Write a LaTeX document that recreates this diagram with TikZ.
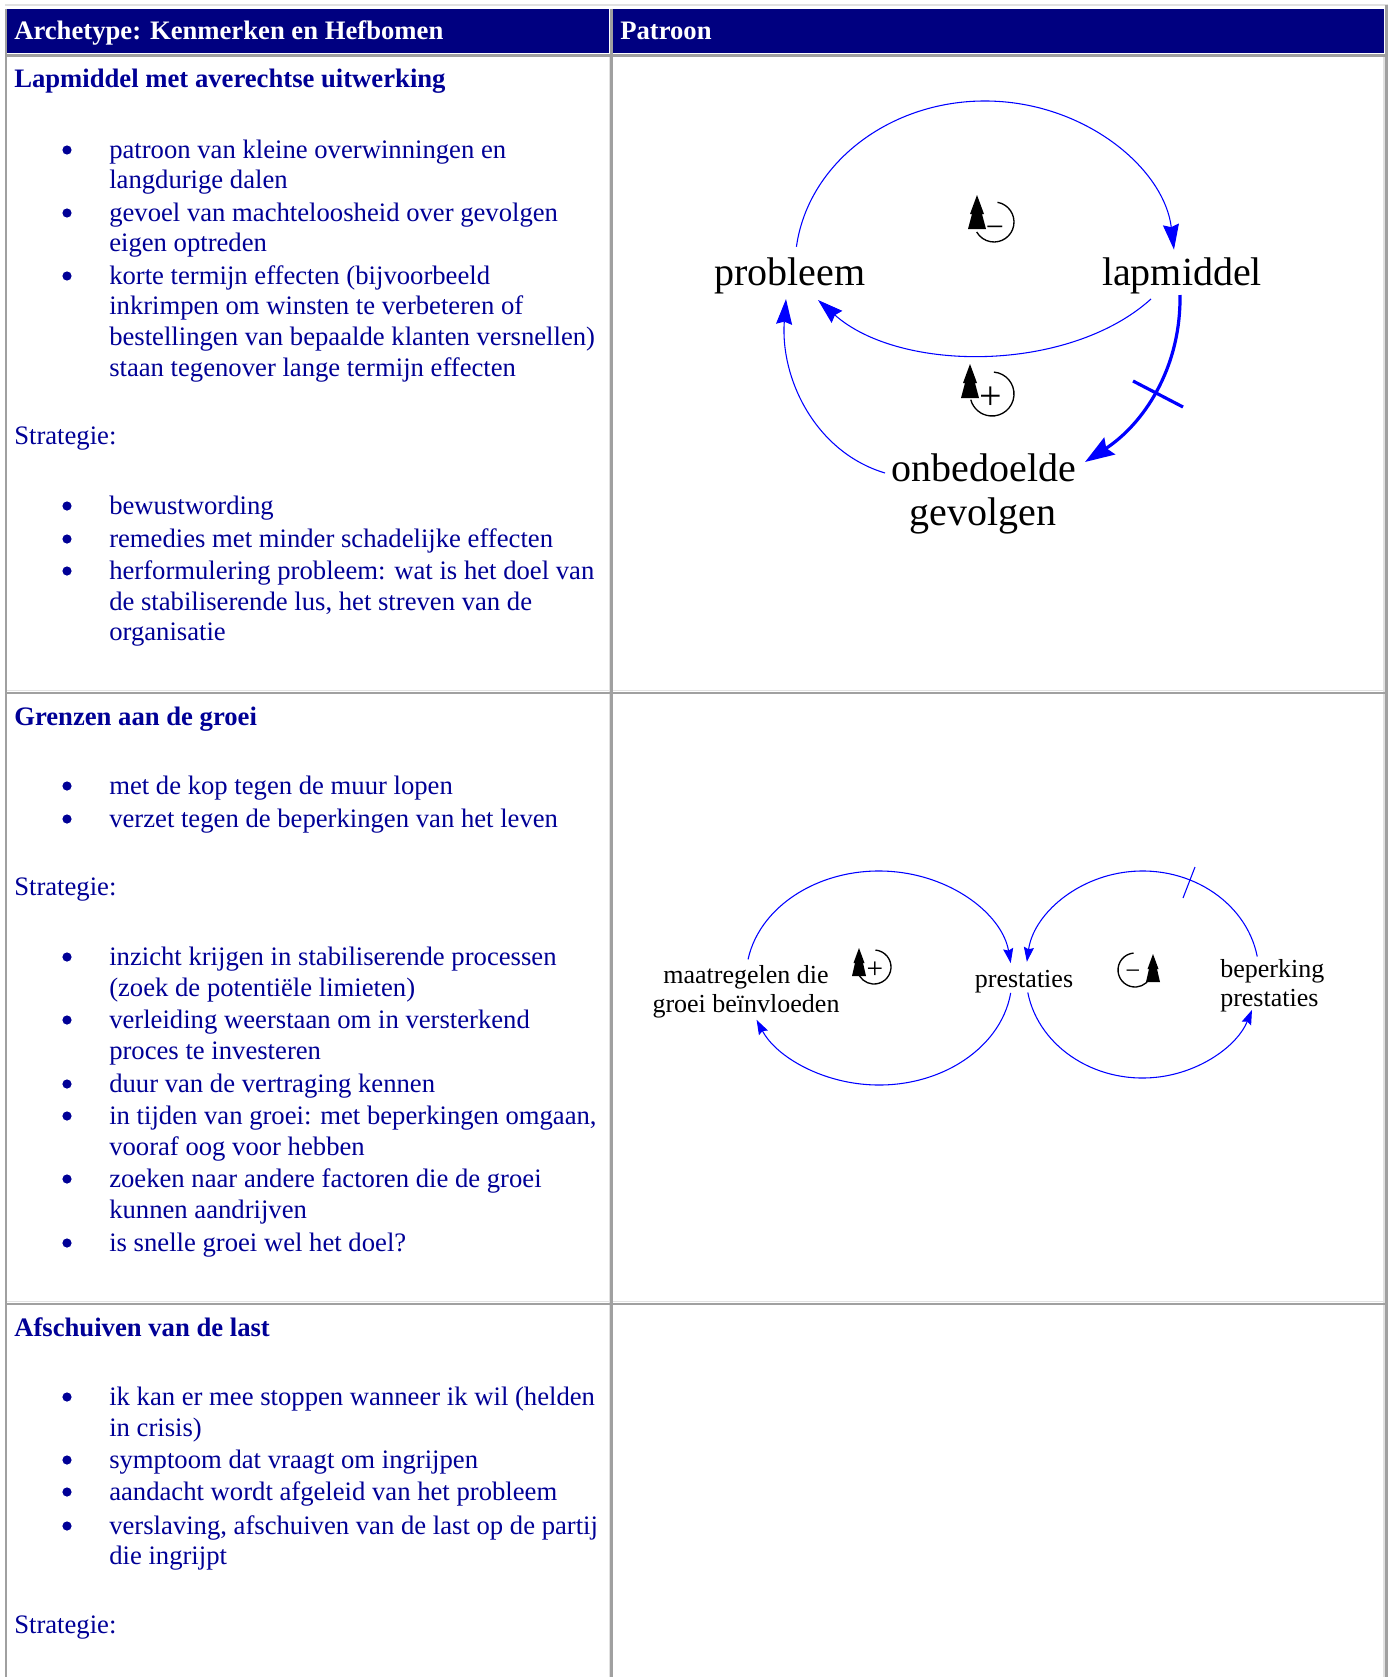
\documentclass[tikz,border=0pt]{standalone}
\usepackage{fontspec}
\setmainfont{Liberation Serif}
\usetikzlibrary{arrows.meta,calc}
\definecolor{hdrblue}{RGB}{0,0,128}
\definecolor{txtblue}{RGB}{0,0,150}
\definecolor{lnblue}{RGB}{0,0,255}
\definecolor{bdgray}{RGB}{160,160,160}
\definecolor{bdlight}{RGB}{225,225,225}
\newcommand{\bulline}[3]{\fill[txtblue] (67,-#2+8) circle[radius=4.6]; \node[txt] (#1) at (109,-#2) {#3};}
\newcommand{\contline}[3]{\node[txt] (#1) at (109,-#2) {#3};}
\begin{document}
\begin{tikzpicture}[x=0.75pt,y=0.75pt,
  txt/.style={anchor=base west,inner sep=0pt,text=txtblue,font=\fontsize{20}{23}\selectfont},
  ttl/.style={txt,font=\fontsize{20}{23}\selectfont\bfseries},
  hdr/.style={anchor=base west,inner sep=0pt,text=white,font=\fontsize{20}{23}\selectfont\bfseries},
  biglbl/.style={anchor=base,inner sep=0pt,font=\fontsize{30}{34}\selectfont},
  smlbl/.style={anchor=base,inner sep=0pt,font=\fontsize{19.5}{22}\selectfont},
  sgn/.style={inner sep=0pt,font=\fontsize{30}{32}\selectfont},
  loopc/.style={line width=1pt},
  link/.style={draw=lnblue,line width=0.8pt},
  bigtip/.style={-{Stealth[length=19pt,width=12pt,inset=2pt]}},
  thicktip/.style={-{Stealth[length=22pt,width=15pt,inset=3pt]}},
  smalltip/.style={-{Stealth[length=11pt,width=7.5pt,inset=1.5pt]}},
  grayline/.style={draw=bdgray,line width=1.6pt},
  lightline/.style={draw=bdlight,line width=1pt}
]
% canvas
\fill[white] (0,0) rectangle (1392,-1677);
\useasboundingbox (0,0) rectangle (1392,-1677);

% table frame
\fill[hdrblue] (7,-9) rectangle (609,-53);
\fill[hdrblue] (613,-9) rectangle (1384,-53);
\draw[lightline] (5,-5) -- (1388,-5);
\draw[lightline] (609.5,-57) -- (609.5,-1677);
\draw[lightline] (1384,-57) -- (1384,-1677);
\draw[lightline] (7,-690.5) -- (1384,-690.5);
\draw[lightline] (7,-1301.5) -- (1384,-1301.5);
\draw[grayline] (6,-9) -- (6,-1677);
\draw[grayline] (611.5,-9) -- (611.5,-1677);
\draw[grayline,line width=2pt] (1386.8,-5) -- (1386.8,-1677);
\draw[grayline] (6,-55.5) -- (1386,-55.5);
\draw[grayline] (6,-693) -- (1386,-693);
\draw[grayline] (6,-1304) -- (1386,-1304);

% header
\node[hdr] (h1) at (14,-40) {Archetype: Kenmerken en Hefbomen};
\node[hdr] (h2) at (620,-40) {Patroon};

% row 1 text
\node[ttl] (t1) at (14,-88) {Lapmiddel met averechtse uitwerking};
\bulline{r1a}{158}{patroon van kleine overwinningen en}
\contline{r1b}{188}{langdurige dalen}
\bulline{r1c}{221}{gevoel van machteloosheid over gevolgen}
\contline{r1d}{251}{eigen optreden}
\bulline{r1e}{284}{korte termijn effecten (bijvoorbeeld}
\contline{r1f}{314}{inkrimpen om winsten te verbeteren of}
\contline{r1g}{345}{bestellingen van bepaalde klanten versnellen)}
\contline{r1h}{376}{staan tegenover lange termijn effecten}
\node[txt] (s1) at (14,-444) {Strategie:};
\bulline{r1i}{514}{bewustwording}
\bulline{r1j}{547}{remedies met minder schadelijke effecten}
\bulline{r1k}{579}{herformulering probleem: wat is het doel van}
\contline{r1l}{610}{de stabiliserende lus, het streven van de}
\contline{r1m}{640}{organisatie}

% row 2 text
\node[ttl] (t2) at (14,-725) {Grenzen aan de groei};
\bulline{r2a}{794}{met de kop tegen de muur lopen}
\bulline{r2b}{827}{verzet tegen de beperkingen van het leven}
\node[txt] (s2) at (14,-895) {Strategie:};
\bulline{r2c}{965}{inzicht krijgen in stabiliserende processen}
\contline{r2d}{996}{(zoek de potentiële limieten)}
\bulline{r2e}{1028}{verleiding weerstaan om in versterkend}
\contline{r2f}{1059}{proces te investeren}
\bulline{r2g}{1092}{duur van de vertraging kennen}
\bulline{r2h}{1124}{in tijden van groei: met beperkingen omgaan,}
\contline{r2i}{1155}{vooraf oog voor hebben}
\bulline{r2j}{1187}{zoeken naar andere factoren die de groei}
\contline{r2k}{1218}{kunnen aandrijven}
\bulline{r2l}{1251}{is snelle groei wel het doel?}

% row 3 text
\node[ttl] (t3) at (14,-1336) {Afschuiven van de last};
\bulline{r3a}{1405}{ik kan er mee stoppen wanneer ik wil (helden}
\contline{r3b}{1436}{in crisis)}
\bulline{r3c}{1468}{symptoom dat vraagt om ingrijpen}
\bulline{r3d}{1500}{aandacht wordt afgeleid van het probleem}
\bulline{r3e}{1534}{verslaving, afschuiven van de last op de partij}
\contline{r3f}{1564}{die ingrijpt}
\node[txt] (s3) at (14,-1633) {Strategie:};

% ===== diagram 1 =====
\node[biglbl] (prob) at (790,-285) {probleem};
\node[biglbl] (lap) at (1182,-285) {lapmiddel};
\node[biglbl] (onb) at (984,-481) {onbedoelde};
\node[biglbl] (gev) at (983,-525) {gevolgen};

\coordinate (c1) at (985,-267);
\coordinate (a1s) at ($(c1)+(173:190 and 166)$);
\draw[link,bigtip] (a1s) arc[start angle=173,end angle=6,x radius=190,y radius=166];

\coordinate (a2s) at (1151,-299);
\coordinate (a2e) at (818,-300);
\draw[link,bigtip] (a2s) .. controls (1069,-373) and (900,-373) .. (a2e);

\coordinate (a3s) at (1180,-295);
\coordinate (a3e) at (1085,-462);
\draw[link,line width=2.4pt,thicktip] (a3s) .. controls (1181,-370) and (1142,-425) .. (a3e);
\coordinate (x1) at (1133,-381);
\coordinate (x2) at (1183,-407);
\draw[draw=lnblue,line width=2.4pt] (x1) -- (x2);

\coordinate (a4s) at (885,-473);
\coordinate (a4e) at (786,-299);
\draw[link,bigtip] (a4s) .. controls (815,-452) and (780,-378) .. (a4e);

% loop symbol minus (diagram 1)
\draw[loopc] ($(994,-222)+(80:20)$) arc[start angle=80,end angle=-150,radius=20];
\fill (968,-229) -- (972,-214) -- (970,-214) -- (977,-195) -- (984,-214) -- (982,-214) -- (986,-229) -- cycle;
\node[sgn,font=\fontsize{24}{26}\selectfont] (m1) at (995,-232) {−};
% loop symbol plus (diagram 1)
\draw[loopc] ($(992,-394)+(85:22)$) arc[start angle=85,end angle=-165,radius=22];
\fill (961,-398) -- (965,-383) -- (963,-383) -- (970,-364) -- (977,-383) -- (975,-383) -- (979,-398) -- cycle;
\node[sgn] (p1) at (991,-398) {+};

% ===== diagram 2 =====
\node[smlbl] (maat1) at (746,-983) {maatregelen die};
\node[smlbl] (maat2) at (746,-1012) {groei beïnvloeden};
\node[smlbl] (pres) at (1024,-987) {prestaties};
\node[smlbl,anchor=base west] (bep1) at (1220,-977) {beperking};
\node[smlbl,anchor=base west] (bep2) at (1220,-1006) {prestaties};

\coordinate (cl) at (879,-978);
\coordinate (b1s) at ($(cl)+(170:133 and 107)$);
\draw[link,smalltip] (b1s) arc[start angle=170,end angle=8,x radius=133,y radius=107];
\coordinate (b2s) at ($(cl)+(-8:133 and 107)$);
\draw[link,smalltip] (b2s) arc[start angle=-8,end angle=-157,x radius=133,y radius=107];

\coordinate (cr) at (1142.5,-974.5);
\coordinate (b3s) at ($(cr)+(10:116.5 and 103.5)$);
\draw[link,smalltip] (b3s) arc[start angle=10,end angle=173,x radius=116.5,y radius=103.5];
\coordinate (b4s) at ($(cr)+(-170:116.5 and 103.5)$);
\draw[link,smalltip] (b4s) arc[start angle=-170,end angle=-20,x radius=116.5,y radius=103.5];
\coordinate (tk1) at (1183,-898);
\coordinate (tk2) at (1195,-867);
\draw[link] (tk1) -- (tk2);

% loop symbol plus (diagram 2)
\draw[loopc] ($(874,-967)+(85:17)$) arc[start angle=85,end angle=-165,radius=17];
\fill (852,-976) -- (855,-963) -- (853.5,-963) -- (859,-948) -- (864.5,-963) -- (863,-963) -- (866,-976) -- cycle;
\node[sgn,font=\fontsize{22}{24}\selectfont] (p2) at (875,-970) {+};
% loop symbol minus (diagram 2)
\draw[loopc] ($(1135,-970)+(95:17)$) arc[start angle=95,end angle=345,radius=17];
\fill (1146,-982) -- (1149,-969) -- (1147.5,-969) -- (1153,-954) -- (1158.5,-969) -- (1157,-969) -- (1160,-982) -- cycle;
\node[sgn,font=\fontsize{20}{22}\selectfont] (m2) at (1133,-975) {−};
\end{tikzpicture}
\end{document}
